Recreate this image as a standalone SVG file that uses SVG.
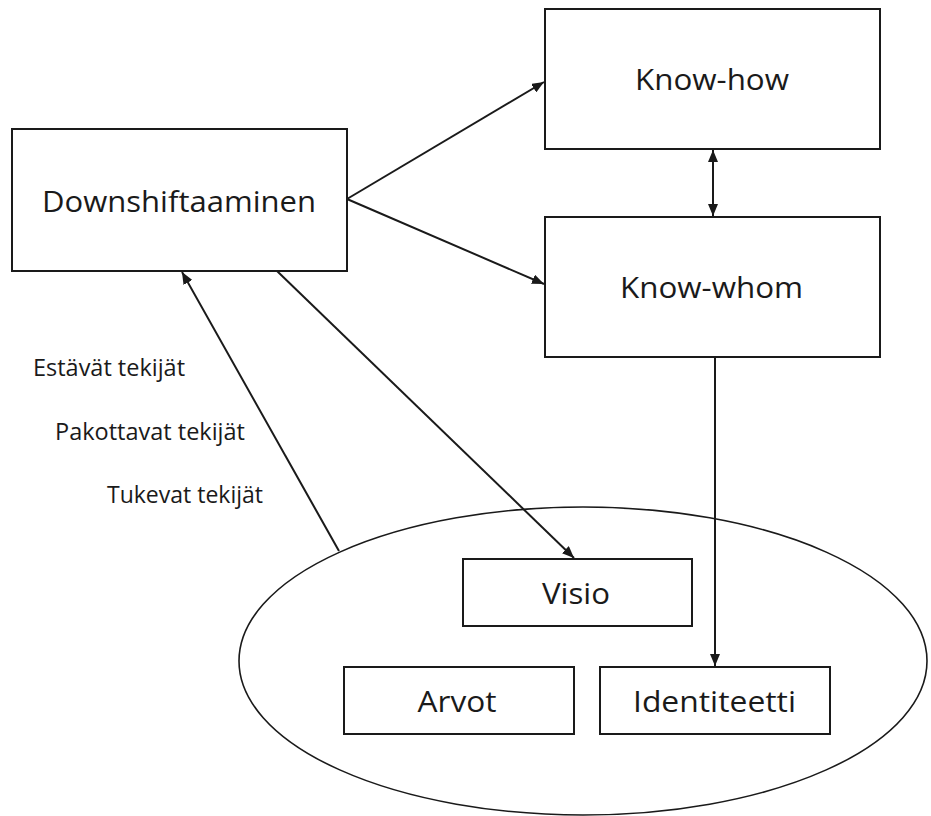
<svg xmlns="http://www.w3.org/2000/svg" width="931" height="816" viewBox="0 0 931 816">
<style>
.box{fill:#fff;stroke:#1a1a1a;stroke-width:2}
.ell{fill:#fff;stroke:#1a1a1a;stroke-width:1.6}
.big{font-family:"Open Sans","Noto Sans","DejaVu Sans",sans-serif;font-size:30px;fill:#1a1a1a;text-anchor:middle}
.small{font-family:"Open Sans","Noto Sans","DejaVu Sans",sans-serif;font-size:23px;fill:#1a1a1a}
.conn{fill:none;stroke:#1a1a1a;stroke-width:2}
</style>
<defs>
<marker id="ah" viewBox="0 0 12 10" refX="12" refY="5" markerWidth="12" markerHeight="10" markerUnits="userSpaceOnUse" orient="auto-start-reverse">
<path d="M0,0 L12,5 L0,10 z" fill="#1a1a1a"/>
</marker>
</defs>
<rect width="931" height="816" fill="#fff"/>
<g id="ellipse-group">
<ellipse class="ell" cx="583" cy="661" rx="344" ry="154"/>
</g>
<g id="downshiftaaminen">
<rect class="box" x="12" y="129" width="335" height="142"/>
<text class="big" x="179" y="212" textLength="274" lengthAdjust="spacingAndGlyphs">Downshiftaaminen</text>
</g>
<g id="know-how">
<rect class="box" x="545" y="9" width="335" height="140"/>
<text class="big" x="712" y="90" textLength="154" lengthAdjust="spacingAndGlyphs">Know-how</text>
</g>
<g id="know-whom">
<rect class="box" x="545" y="217" width="335" height="140"/>
<text class="big" x="711.5" y="298" textLength="183" lengthAdjust="spacingAndGlyphs">Know-whom</text>
</g>
<g id="visio">
<rect class="box" x="463" y="559" width="229" height="67"/>
<text class="big" x="576" y="604" textLength="68" lengthAdjust="spacingAndGlyphs">Visio</text>
</g>
<g id="arvot">
<rect class="box" x="344" y="667" width="230" height="67"/>
<text class="big" x="457" y="712" textLength="79" lengthAdjust="spacingAndGlyphs">Arvot</text>
</g>
<g id="identiteetti">
<rect class="box" x="600" y="667" width="230" height="67"/>
<text class="big" x="714.5" y="712" textLength="163" lengthAdjust="spacingAndGlyphs">Identiteetti</text>
</g>
<g id="labels">
<text class="small" x="33" y="376" textLength="152" lengthAdjust="spacingAndGlyphs">Estävät tekijät</text>
<text class="small" x="55" y="440" textLength="190" lengthAdjust="spacingAndGlyphs">Pakottavat tekijät</text>
<text class="small" x="107" y="503" textLength="156" lengthAdjust="spacingAndGlyphs">Tukevat tekijät</text>
</g>
<g id="connectors">
<line class="conn" x1="347" y1="199" x2="544" y2="82" marker-end="url(#ah)"/>
<line class="conn" x1="347" y1="199" x2="544" y2="284" marker-end="url(#ah)"/>
<line class="conn" x1="713" y1="150" x2="713" y2="216" marker-start="url(#ah)" marker-end="url(#ah)"/>
<line class="conn" x1="277" y1="271" x2="574" y2="558" marker-end="url(#ah)"/>
<line class="conn" x1="339" y1="551" x2="182" y2="272" marker-end="url(#ah)"/>
<line class="conn" x1="715" y1="357" x2="715" y2="666" marker-end="url(#ah)"/>
</g>
</svg>
